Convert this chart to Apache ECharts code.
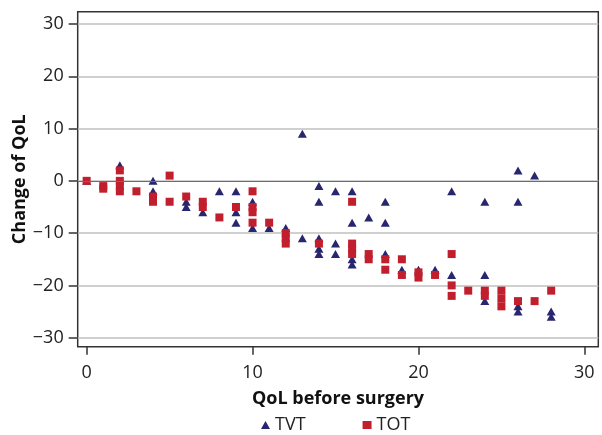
<!DOCTYPE html>
<html><head><meta charset="utf-8">
<script src="https://cdn.jsdelivr.net/npm/echarts@6/dist/echarts.min.js"></script>
<style>html,body{margin:0;padding:0;background:#fff}#c{width:602px;height:435px}</style>
</head><body><div id="c"></div>
<script>
// TVT: [QoL before surgery, change of QoL]
const tvt = [
  [0,0],[2,3],[4,0],[4,-2],[6,-4],[6,-5],[7,-6],[8,-2],
  [9,-2],[9,-6],[9,-8],[10,-4],[10,-9],[11,-9],[12,-9],
  [13,9],[13,-11],[14,-1],[14,-4],[14,-11],[14,-13],[14,-14],
  [15,-2],[15,-12],[15,-14],[16,-2],[16,-8],[16,-15],[16,-16],
  [17,-7],[18,-4],[18,-8],[18,-14],[19,-17],[20,-17],[21,-17],
  [22,-2],[22,-18],[24,-4],[24,-18],[24,-23],
  [26,2],[26,-4],[26,-24],[26,-25],[27,1],[28,-25],[28,-26]
];
// TOT
const tot = [
  [0,0],[1,-1],[1,-1.5],[2,2],[2,0],[2,-1],[2,-2],[3,-2],[4,-3],[4,-4],
  [5,1],[5,-4],[6,-3],[7,-4],[7,-5],[8,-7],[9,-5],
  [10,-2],[10,-5],[10,-6],[10,-8],[11,-8],[12,-10],[12,-11],[12,-12],
  [14,-12],[16,-4],[16,-12],[16,-13],[16,-14],[17,-14],[17,-15],
  [18,-15],[18,-17],[19,-15],[19,-18],[20,-17.5],[20,-18.5],[21,-18],
  [22,-14],[22,-20],[22,-22],[23,-21],[24,-21],[24,-22],
  [25,-21],[25,-22.5],[25,-24],[26,-23],[27,-23],[28,-21]
];
const xTicks = [0,10,20,30];
const yTicks = [-30,-20,-10,0,10,20,30];
const seriesNames = ['TVT','TOT'];
const zeroLine = 0;

const FONT = 'Open Sans';
const chart = echarts.init(document.getElementById('c'));
const fmt = v => String(v).replace('-', '\u2212');
chart.setOption({
  animation: false,
  textStyle: {fontFamily: FONT},
  grid: {left: 77.7, right: 3.7, top: 11.7, bottom: 88.3, show: true, containLabel: false,
         outerBoundsMode: 'none',
         borderColor: '#333', borderWidth: 1.5, backgroundColor: 'transparent'},
  xAxis: {
    type: 'value', min: -0.54, max: 30.84,
    name: 'QoL before surgery', nameLocation: 'middle', nameGap: 43, nameMoveOverlap: false,
    nameTextStyle: {fontFamily: FONT, fontSize: 18, fontWeight: 'bold', color: '#111'},
    axisLine: {show: false, onZero: false},
    axisTick: {show: true, customValues: xTicks, length: 8, lineStyle: {color: '#333', width: 1.5}},
    axisLabel: {customValues: xTicks, fontFamily: FONT, fontSize: 18, color: '#222', margin: 17, formatter: fmt},
    splitLine: {show: false}
  },
  yAxis: {
    type: 'value', min: -31.72, max: 32.35,
    name: 'Change of QoL', nameLocation: 'middle', nameGap: 49, nameMoveOverlap: false,
    nameTextStyle: {fontFamily: FONT, fontSize: 18, fontWeight: 'bold', color: '#111'},
    axisLine: {show: false, onZero: false},
    axisTick: {show: true, customValues: yTicks, length: 9, lineStyle: {color: '#333', width: 1.5}},
    axisLabel: {customValues: yTicks, fontFamily: FONT, fontSize: 18, color: '#222', margin: 14, formatter: fmt},
    splitLine: {show: true, lineStyle: {color: '#c0c0c0', width: 1.5}}
  },
  legend: {
    data: [{name: seriesNames[0], icon: 'triangle'}, {name: seriesNames[1], icon: 'rect'}],
    left: 256, top: 411, itemWidth: 9, itemHeight: 8, itemGap: 57, selectedMode: false,
    textStyle: {fontFamily: FONT, fontSize: 18, color: '#222'}
  },
  series: [
    {type: 'line', data: [], z: 1, silent: true,
     markLine: {symbol: 'none', silent: true, label: {show: false},
       lineStyle: {color: '#e23a44', width: 1.2, type: 'solid'},
       data: [{yAxis: zeroLine}]}},
    {name: seriesNames[0], type: 'scatter', data: tvt, symbol: 'triangle', symbolSize: [9, 8], z: 2,
     itemStyle: {color: '#27266e', opacity: 1}},
    {name: seriesNames[1], type: 'scatter', data: tot, symbol: 'rect', symbolSize: 8, z: 3,
     itemStyle: {color: '#c11f2e', opacity: 1}}
  ]
});
</script></body></html>
